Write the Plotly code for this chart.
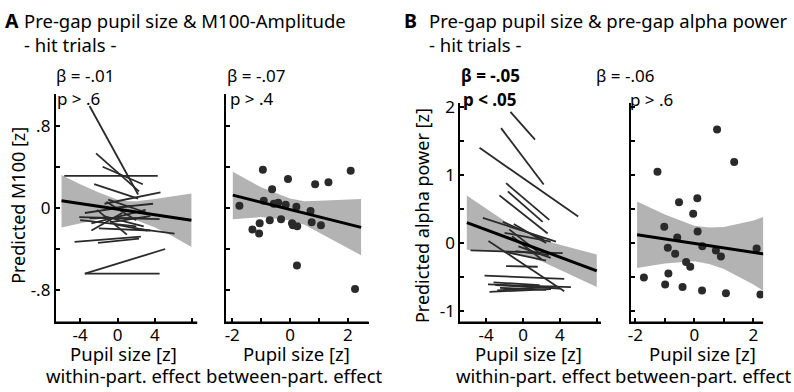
import plotly.graph_objects as go

W, H = 794, 392

# ---------------- Panel A: pupil size & M100 ----------------
# within-participant lines (start / end points)
A1_x_start = [-3.0, -5.7, -2.3, -1.6, -2.5, -1.4, -4.6, -2.1, -3.5, -3.5, 1.8, -4.1, -2.8,
              -1.0, -3.5, -2.0, -0.5, -4.0, -1.5, -2.8, -0.8, -3.0, -1.2, -2.2, -0.3]
A1_y_start = [0.99, 0.31, 0.53, 0.40, 0.23, 0.04, -0.33, -0.34, -0.64, -0.64, -0.20, -0.09, -0.15,
              0.08, -0.05, -0.20, 0.00, -0.12, -0.08, -0.22, -0.14, -0.10, 0.06, -0.02, -0.16]
A1_x_end = [2.2, 4.3, 2.3, 2.7, 2.2, 4.6, 2.5, 2.3, 4.5, 5.1, 6.1, 4.5, 3.0,
            3.2, 1.5, 3.5, 3.8, 2.0, 2.8, 0.5, 3.5, 3.0, 2.0, 1.0, 3.2]
A1_y_end = [0.13, 0.31, 0.16, 0.23, 0.09, 0.15, -0.28, -0.30, -0.64, -0.40, -0.25, -0.11, -0.02,
            -0.05, 0.02, -0.22, 0.04, -0.18, -0.18, -0.05, -0.08, -0.10, -0.12, -0.26, -0.22]
A1_fit_x = [-6.0, 7.9]
A1_fit_y = [0.07, -0.12]
A1_band_x = [-6.0, -4.0, -2.0, 0.0, 1.0, 2.0, 4.0, 6.0, 7.9]
A1_band_upper = [0.32, 0.23, 0.15, 0.08, 0.065, 0.065, 0.085, 0.11, 0.14]
A1_band_lower = [-0.19, -0.15, -0.11, -0.09, -0.10, -0.12, -0.19, -0.28, -0.38]

# between-participant points
A2_x = [-1.75, -0.94, -1.30, -1.05, -1.07, -0.91, -0.62, -0.70, -0.56, -0.41, -0.31, -0.15, -0.07,
        0.07, 0.10, 0.22, 0.25, 0.24, 0.71, 0.75, 0.87, 1.07, 1.33, 2.10, 2.25]
A2_y = [0.02, 0.37, -0.21, -0.15, -0.25, 0.07, 0.18, -0.12, 0.04, 0.05, -0.11, 0.03, 0.28,
        -0.15, -0.17, 0.01, -0.18, -0.56, -0.03, -0.14, 0.23, -0.17, 0.25, 0.36, -0.79]
A2_fit_x = [-1.98, 2.46]
A2_fit_y = [0.124, -0.19]
A2_band_x = [-1.98, -1.0, 0.0, 0.5, 1.0, 2.0, 2.46]
A2_band_upper = [0.35, 0.20, 0.09, 0.065, 0.07, 0.08, 0.086]
A2_band_lower = [-0.11, -0.09, -0.12, -0.165, -0.24, -0.39, -0.46]

# ---------------- Panel B: pupil size & alpha power ----------------
B1_x_start = [-1.37, -2.38, -4.72, -1.84, -1.65, -2.56, -4.36, -2.2, -5.7, -3.75, -1.84, -4.18, -3.8,
              -3.64, -2.0, -1.0, -3.0, -2.8, -1.5, -0.5, -2.5, -1.2, -0.8, -3.2, -2.0]
B1_y_start = [1.93, 1.69, 1.40, 0.88, 0.76, 0.70, 0.37, 0.31, -0.11, 0.03, -0.34, -0.48, -0.61,
              -0.72, -0.13, 0.28, -0.62, -0.70, 0.20, -0.05, -0.66, 0.10, -0.12, -0.58, 0.15]
B1_x_end = [1.30, 2.24, 5.98, 2.85, 2.13, 2.67, 3.57, 2.3, 4.3, 4.47, 1.59, 4.47, 5.2,
            3.03, 2.5, 2.5, 4.0, 3.5, 1.8, 3.0, 2.5, 2.0, 2.8, 1.8, 3.0]
B1_y_end = [1.52, 0.86, 0.39, 0.34, 0.31, 0.14, 0.02, 0.05, -0.15, -0.71, -0.35, -0.53, -0.65,
            -0.68, -0.26, 0.0, -0.67, -0.64, -0.15, -0.22, -0.69, -0.24, -0.18, -0.62, 0.02]
B1_fit_x = [-6.09, 8.0]
B1_fit_y = [0.30, -0.41]
B1_band_x = [-6.1, -4.0, -2.0, 0.0, 2.0, 4.0, 6.0, 8.0]
B1_band_upper = [0.70, 0.505, 0.324, 0.163, 0.052, -0.028, -0.10, -0.17]
B1_band_lower = [-0.10, -0.115, -0.136, -0.177, -0.268, -0.388, -0.52, -0.65]

B2_x = [0.77, 1.35, -1.25, -0.52, 0.10, -0.04, -1.02, 0.11, -0.58, -0.90, -0.65, 0.27, 0.73,
        0.90, 2.11, -0.28, -0.14, -1.71, -0.88, -0.99, -0.40, 0.26, 1.07, 2.24]
B2_y = [1.67, 1.19, 1.05, 0.60, 0.66, 0.43, 0.24, 0.17, 0.08, -0.07, -0.16, -0.05, -0.11,
        -0.20, -0.08, -0.28, -0.35, -0.51, -0.45, -0.61, -0.65, -0.70, -0.74, -0.76]
B2_fit_x = [-1.94, 2.46]
B2_fit_y = [0.12, -0.17]
B2_band_x = [-1.94, -1.0, 0.0, 0.5, 1.0, 2.0, 2.46]
B2_band_upper = [0.61, 0.418, 0.252, 0.229, 0.236, 0.33, 0.40]
B2_band_lower = [-0.37, -0.302, -0.268, -0.311, -0.384, -0.61, -0.74]

FONT = "Noto Sans"
BAND = "#b3b3b3"
LINE = "#2a2a2a"

fig = go.Figure()


def band(xs, up, lo, xa, ya):
    fig.add_trace(go.Scatter(x=list(xs) + list(xs)[::-1], y=list(up) + list(lo)[::-1],
                             fill="toself", fillcolor=BAND, line=dict(width=0),
                             mode="lines", hoverinfo="skip", showlegend=False,
                             xaxis=xa, yaxis=ya))


def segments(x0, y0, x1, y1, xa, ya):
    xs, ys = [], []
    for a, b, c, d in zip(x0, y0, x1, y1):
        xs += [a, c, None]
        ys += [b, d, None]
    fig.add_trace(go.Scatter(x=xs, y=ys, mode="lines", line=dict(color=LINE, width=1.8),
                             showlegend=False, xaxis=xa, yaxis=ya))


def fit(xs, ys, xa, ya):
    fig.add_trace(go.Scatter(x=xs, y=ys, mode="lines", line=dict(color="black", width=3),
                             showlegend=False, xaxis=xa, yaxis=ya))


def dots(xs, ys, xa, ya):
    fig.add_trace(go.Scatter(x=xs, y=ys, mode="markers",
                             marker=dict(color=LINE, size=8, line=dict(width=0)),
                             showlegend=False, xaxis=xa, yaxis=ya))


band(A1_band_x, A1_band_upper, A1_band_lower, "x", "y")
segments(A1_x_start, A1_y_start, A1_x_end, A1_y_end, "x", "y")
fit(A1_fit_x, A1_fit_y, "x", "y")

band(A2_band_x, A2_band_upper, A2_band_lower, "x2", "y2")
dots(A2_x, A2_y, "x2", "y2")
fit(A2_fit_x, A2_fit_y, "x2", "y2")

band(B1_band_x, B1_band_upper, B1_band_lower, "x3", "y3")
segments(B1_x_start, B1_y_start, B1_x_end, B1_y_end, "x3", "y3")
fit(B1_fit_x, B1_fit_y, "x3", "y3")

band(B2_band_x, B2_band_upper, B2_band_lower, "x4", "y4")
dots(B2_x, B2_y, "x4", "y4")
fit(B2_fit_x, B2_fit_y, "x4", "y4")


def px(x):
    return x / W


def py(y):
    return 1 - y / H


axis_common = dict(showline=True, linecolor="black", linewidth=2, ticks="inside",
                   ticklen=4, tickwidth=1.5, tickcolor="black", showgrid=False,
                   zeroline=False, tickfont=dict(family=FONT, size=17, color="black"),
                   fixedrange=True, layer="above traces")
xaxis_extra = dict(ticklabelstandoff=-4)

fig.update_layout(
    width=W, height=H, margin=dict(l=0, r=0, t=0, b=0),
    plot_bgcolor="white", paper_bgcolor="white", showlegend=False,
    font=dict(family=FONT, color="black"),
    xaxis=dict(domain=[px(53), px(195)], range=[-6.61, 8.53], anchor="y",
               tickvals=[-4, 0, 4, 8], ticktext=["-4", "0", "4", ""],
               **axis_common, **xaxis_extra),
    yaxis=dict(domain=[py(321), py(88)], range=[-1.114, 1.105], anchor="x",
               tickvals=[-0.8, -0.4, 0, 0.4, 0.8], ticktext=["-.8", "", "0", "", ".8"],
               **axis_common),
    xaxis2=dict(domain=[px(224), px(367)], range=[-2.21, 2.72], anchor="y2",
                tickvals=[-2, -1, 0, 1, 2], ticktext=["-2", "", "0", "", "2"],
                **axis_common, **xaxis_extra),
    yaxis2=dict(domain=[py(321), py(88)], range=[-1.114, 1.105], anchor="x2",
                tickvals=[-0.8, -0.4, 0, 0.4, 0.8], showticklabels=False, **axis_common),
    xaxis3=dict(domain=[px(459), px(600)], range=[-6.81, 8.43], anchor="y3",
                tickvals=[-4, 0, 4, 8], ticktext=["-4", "0", "4", ""],
                **axis_common, **xaxis_extra),
    yaxis3=dict(domain=[py(321), py(97)], range=[-1.17, 2.06], anchor="x3",
                tickvals=[-1, -0.5, 0, 0.5, 1, 1.5, 2], ticktext=["-1", "", "0", "", "1", "", "2"],
                **axis_common),
    xaxis4=dict(domain=[px(630), px(763)], range=[-2.16, 2.33], anchor="y4",
                tickvals=[-2, -1, 0, 1, 2], ticktext=["-2", "", "0", "", "2"],
                **axis_common, **xaxis_extra),
    yaxis4=dict(domain=[py(321), py(97)], range=[-1.17, 2.06], anchor="x4",
                tickvals=[-1, -0.5, 0, 0.5, 1, 1.5, 2], showticklabels=False, **axis_common),
)

# explicit bottom axis lines (baseline of each panel), drawn in paper space
for x0, x1 in [(53, 195), (224, 367), (459, 600), (630, 763)]:
    fig.add_shape(type="line", xref="paper", yref="paper",
                  x0=px(x0 - 1), x1=px(x1), y0=py(321), y1=py(321),
                  line=dict(color="black", width=2), layer="above")

ann = []


def text(x, y, s, size=17, xanchor="left", angle=0):
    ann.append(dict(x=px(x), y=py(y), xref="paper", yref="paper", text=s, showarrow=False,
                    xanchor=xanchor, yanchor="middle", textangle=angle, borderpad=0,
                    font=dict(family=FONT, size=size, color="black")))


# panel letters and titles
text(1, 13, "<b>A</b>", size=19.5)
text(20, 13, "Pre-gap pupil size &amp; M100-Amplitude", size=18.5)
text(20, 37, "- hit trials -", size=18.5)
text(402, 13, "<b>B</b>", size=19.5)
text(427, 13, "Pre-gap pupil size &amp; pre-gap alpha power", size=18.5)
text(427, 37, "- hit trials -", size=18.5)

# stats
text(52, 69, "β = -.01")
text(53, 92, "p &gt; .6")
text(224, 69, "β = -.07")
text(227, 92, "p &gt; .4")
text(459, 69, "<b>β = -.05</b>")
text(461, 93, "<b>p &lt; .05</b>")
text(594, 69, "β = -.06")
text(628, 93, "p &gt; .6")

# axis titles
text(15, 201, "Predicted M100 [z]", size=18, xanchor="center", angle=-90)
text(420, 212, "Predicted alpha power [z]", size=18, xanchor="center", angle=-90)
text(121, 353, "Pupil size [z]", size=18.5, xanchor="center")
text(121, 375, "within-part. effect", size=18.5, xanchor="center")
text(295, 353, "Pupil size [z]", size=18.5, xanchor="center")
text(293, 375, "between-part. effect", size=18.5, xanchor="center")
text(527, 353, "Pupil size [z]", size=18.5, xanchor="center")
text(533, 375, "within-part. effect", size=18.5, xanchor="center")
text(702, 353, "Pupil size [z]", size=18.5, xanchor="center")
text(703, 375, "between-part. effect", size=18.5, xanchor="center")

fig.update_layout(annotations=ann)

fig.write_html("out.html", config={"displayModeBar": False},
               post_script="document.body.style.margin='0';")
